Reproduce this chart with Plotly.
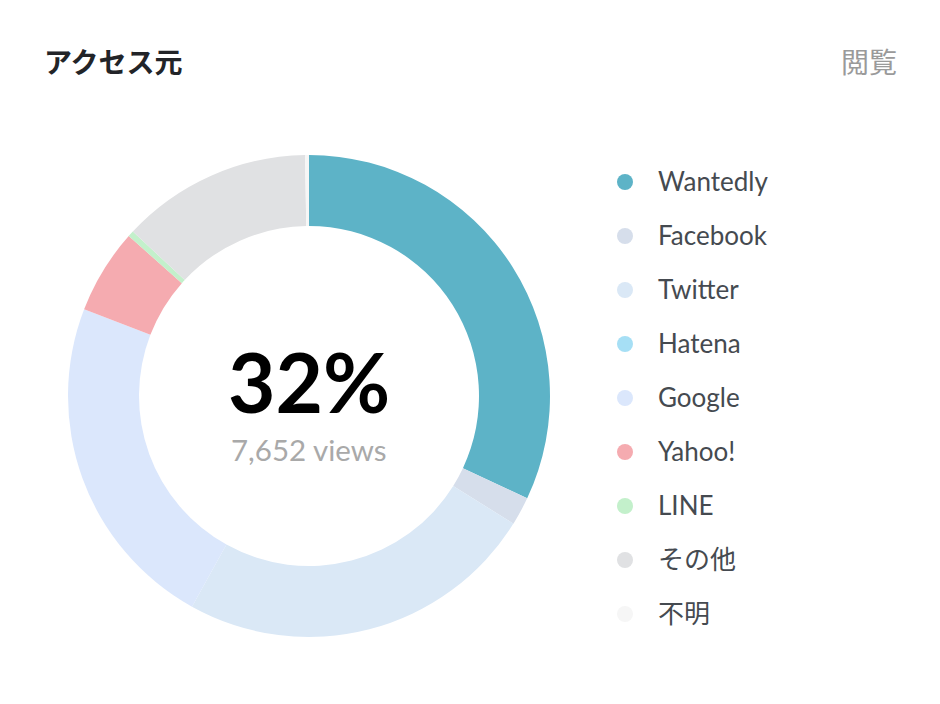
import plotly.graph_objects as go

labels = ["Wantedly", "Facebook", "Twitter", "Hatena", "Google", "Yahoo!", "LINE", "その他", "不明"]
views = [7652, 455, 5787, 0, 5452, 1363, 96, 3060, 62]
colors = ["#5db3c7", "#d6deeb", "#dae8f6", "#a6dff5", "#dbe7fc", "#f5abb0", "#c3f0cb", "#e0e1e3", "#f6f6f6"]
title_text = "アクセス元"
right_text = "閲覧"
center_pct = "32%"
center_sub = "7,652 views"

OFF = 8  # page body margin
W, H = 940 - 2 * OFF, 704 - 2 * OFF


def px(x):
    return (x - OFF) / W


def py(y):
    return 1 - (y - OFF) / H


cx, cy, R = 309, 396, 241

fig = go.Figure()
fig.add_trace(go.Pie(
    labels=labels, values=views, hole=170 / 241,
    sort=False, direction="clockwise", rotation=0,
    marker=dict(colors=colors, line=dict(width=0)),
    textinfo="none", hoverinfo="label+value+percent", showlegend=False,
    domain=dict(x=[px(cx - R), px(cx + R)], y=[py(cy + R), py(cy - R)]),
))

ann = []
shapes = []
ann.append(dict(text=f"<b>{title_text}</b>", x=px(42), y=py(61), xref="paper", yref="paper",
                xanchor="left", yanchor="middle", showarrow=False,
                font=dict(family="Noto Sans CJK JP", size=28, color="#222428")))
ann.append(dict(text=right_text, x=px(899), y=py(61), xref="paper", yref="paper",
                xanchor="right", yanchor="middle", showarrow=False,
                font=dict(family="Noto Sans CJK JP", size=28, color="#9a9a9a")))
ann.append(dict(text=f"<b>{center_pct}</b>", x=px(cx), y=py(381), xref="paper", yref="paper",
                xanchor="center", yanchor="middle", showarrow=False,
                font=dict(family="Lato", size=82, color="#000000")))
ann.append(dict(text=center_sub, x=px(cx), y=py(449), xref="paper", yref="paper",
                xanchor="center", yanchor="middle", showarrow=False,
                font=dict(family="Lato", size=29.5, color="#a9a9a9")))

y0, dy = 181, 54
for i, (lab, col) in enumerate(zip(labels, colors)):
    yy = y0 + i * dy
    shapes.append(dict(type="circle", xref="paper", yref="paper",
                       x0=px(625 - 8), x1=px(625 + 8),
                       y0=py(yy + 9), y1=py(yy - 7),
                       fillcolor=col, line=dict(width=0)))
    ann.append(dict(text=lab, x=px(656), y=py(yy), xref="paper", yref="paper",
                    xanchor="left", yanchor="middle", showarrow=False,
                    font=dict(family="Lato, Noto Sans CJK JP", size=26, color="#454a50")))

fig.update_layout(width=W, height=H, margin=dict(l=0, r=0, t=0, b=0),
                  paper_bgcolor="white", plot_bgcolor="white",
                  annotations=ann, shapes=shapes)
fig.write_html("out.html")
